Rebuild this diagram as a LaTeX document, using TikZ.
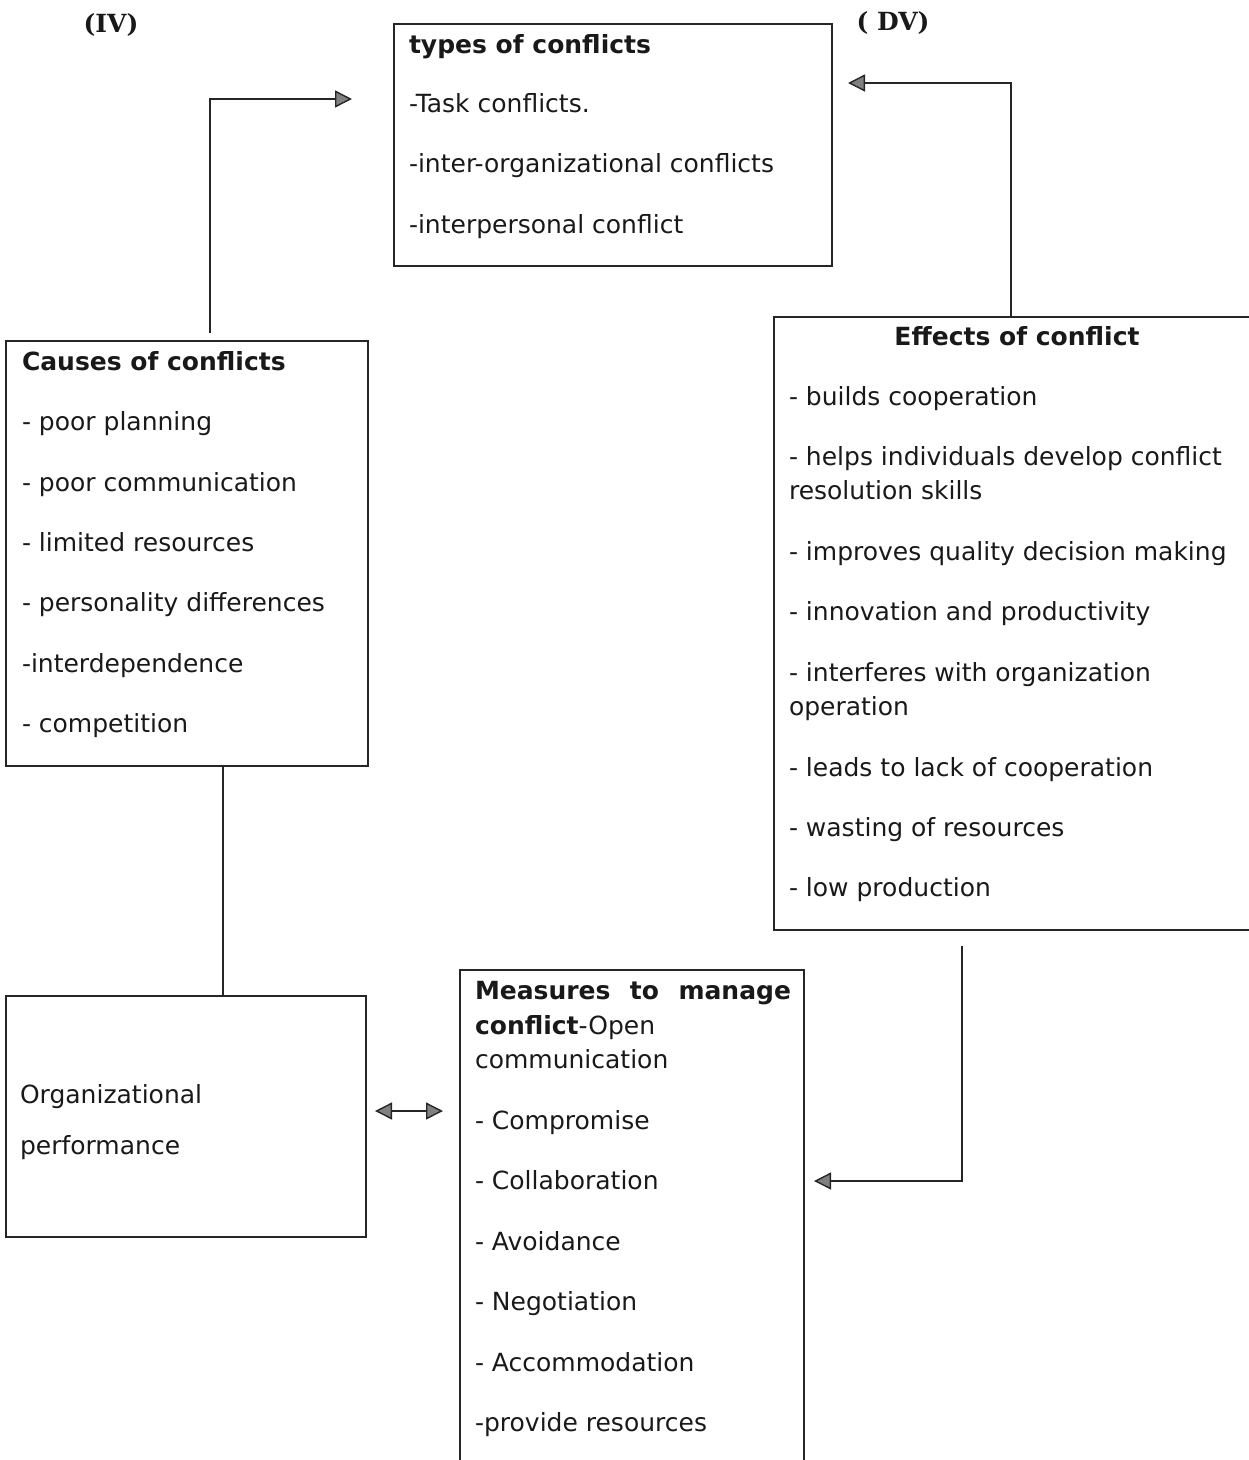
\documentclass[tikz,border=0pt]{standalone}
\usepackage{fontspec}
\setmainfont{DejaVu Sans}
\newfontfamily\labfont{DejaVu Serif}
\usetikzlibrary{arrows.meta}
\tikzset{
  box/.style={draw=black!85, line width=1.2pt, inner sep=0pt, outer sep=0pt, anchor=north west},
  txt/.style={anchor=base west, inner sep=0pt, outer sep=0pt, font=\fontsize{25}{30}\selectfont, text=black!90},
  ttl/.style={txt, font=\fontsize{25}{30}\selectfont\bfseries},
  conn/.style={draw=black!85, line width=1.6pt},
  head/.tip={Triangle[length=17pt,width=17pt,fill=black!50,line width=1.4pt]},
  tip/.style={-head},
  lab/.style={font=\fontsize{25}{28}\selectfont\labfont\bfseries, inner sep=0pt, text=black!90}
}
\begin{document}
\begin{tikzpicture}[x=1pt,y=-1pt]
\useasboundingbox (0,0) rectangle (1249,1460);

% labels
\node[lab] (iv) at (111,25) {(IV)};
\node[lab] (dv) at (893,23) {( DV)};

% boxes
\node[box, minimum width=438pt, minimum height=242pt] (types) at (394,24) {};
\node[box, minimum width=362pt, minimum height=425pt] (causes) at (6,341) {};
\node[box, minimum width=495pt, minimum height=613pt] (effects) at (774,317) {};
\node[box, minimum width=360pt, minimum height=241pt] (org) at (6,996) {};
\node[box, minimum width=344pt, minimum height=530pt] (meas) at (460,970) {};

% types text
\node[ttl] (t0) at (409,53) {types of conflicts};
\node[txt] (t1) at (409,112) {-Task conflicts.};
\node[txt] (t2) at (409,172) {-inter-organizational conflicts};
\node[txt] (t3) at (409,233) {-interpersonal conflict};

% causes text
\node[ttl] (c0) at (22,370) {Causes of conflicts};
\node[txt] (c1) at (22,430) {- poor planning};
\node[txt] (c2) at (22,491) {- poor communication};
\node[txt] (c3) at (22,551) {- limited resources};
\node[txt] (c4) at (22,611) {- personality differences};
\node[txt] (c5) at (22,672) {-interdependence};
\node[txt] (c6) at (22,732) {- competition};

% effects text
\node[ttl, anchor=base] (e0) at (1017,345) {Effects of conflict};
\node[txt] (e1) at (789,405) {- builds cooperation};
\node[txt] (e2) at (789,465) {- helps individuals develop conflict};
\node[txt] (e2b) at (789,499) {resolution skills};
\node[txt] (e3) at (789,560) {- improves quality decision making};
\node[txt] (e4) at (789,620) {- innovation and productivity};
\node[txt] (e5) at (789,681) {- interferes with organization};
\node[txt] (e5b) at (789,715) {operation};
\node[txt] (e6) at (789,776) {- leads to lack of cooperation};
\node[txt] (e7) at (789,836) {- wasting of resources};
\node[txt] (e8) at (789,896) {- low production};

% org text
\node[txt] (o1) at (20,1103) {Organizational};
\node[txt] (o2) at (20,1154) {performance};

% measures text
\node[txt] (m0) at (475,999) {\makebox[316pt][s]{\bfseries Measures\hfill to\hfill manage}};
\node[txt] (m0b) at (475,1034) {\textbf{conflict}-Open};
\node[txt] (m0c) at (475,1068) {communication};
\node[txt] (m1) at (475,1129) {- Compromise};
\node[txt] (m2) at (475,1189) {- Collaboration};
\node[txt] (m3) at (475,1250) {- Avoidance};
\node[txt] (m4) at (475,1310) {- Negotiation};
\node[txt] (m5) at (475,1371) {- Accommodation};
\node[txt] (m6) at (475,1431) {-provide resources};

% connector coordinates
\coordinate (a1) at (352,99);
\coordinate (a2) at (848,83);
\coordinate (v1) at (210,333);
\coordinate (v2) at (1011,0);
\coordinate (v3) at (223,0);
\coordinate (d1) at (375,1111);
\coordinate (d2) at (443,1111);
\coordinate (s1) at (962,946);
\coordinate (a3) at (814,1181);

% connectors
\draw[conn, tip] (v1) |- (a1);
\draw[conn, tip] (effects.north -| v2) |- (a2);
\draw[conn] (causes.south -| v3) -- (org.north -| v3);
\draw[conn, head-head] (d1) -- (d2);
\draw[conn, tip] (s1) |- (a3);
\end{tikzpicture}
\end{document}
